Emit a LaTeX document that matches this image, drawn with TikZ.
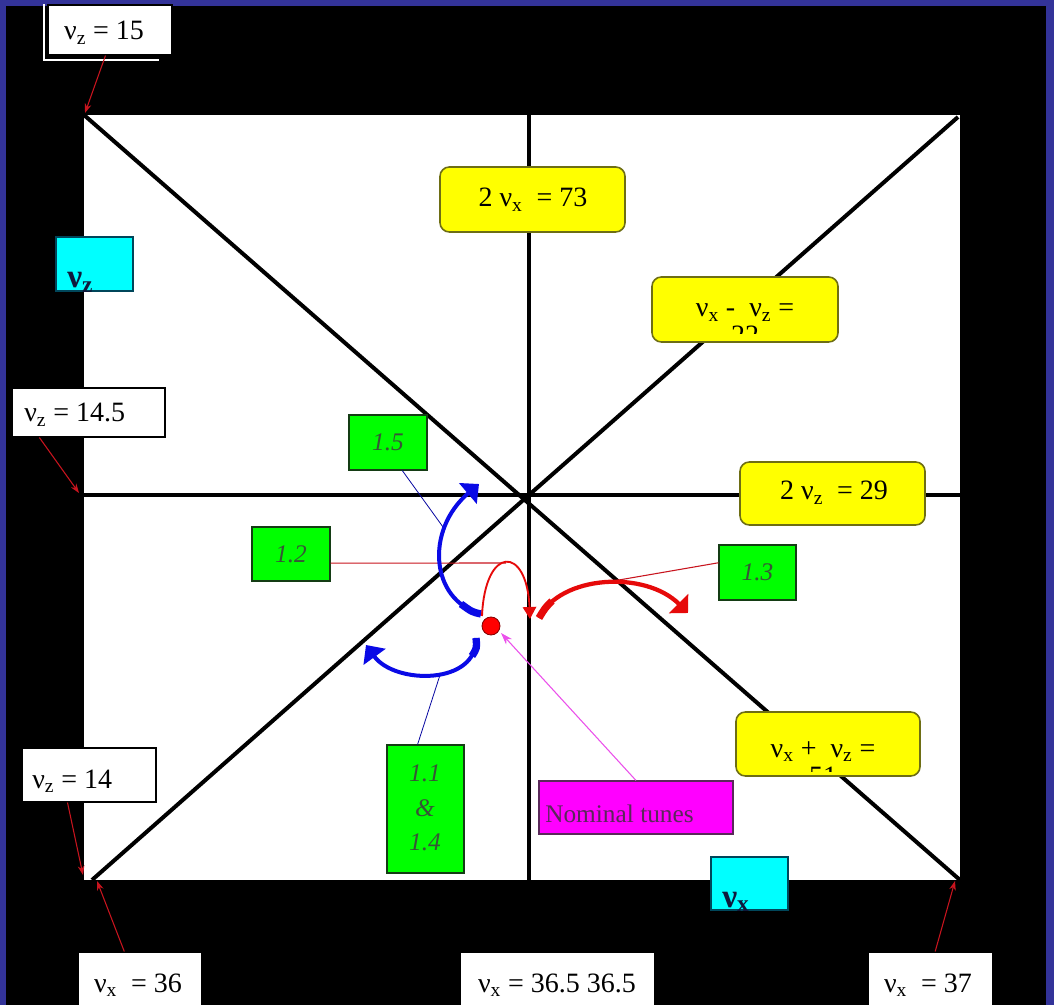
\documentclass[tikz,border=0pt]{standalone}
\usepackage{fontspec}
\setmainfont{Liberation Serif}
\usetikzlibrary{fit,arrows.meta,calc}
\definecolor{frameblue}{RGB}{51,51,153}
\definecolor{yfill}{RGB}{255,255,0}
\definecolor{gfill}{RGB}{0,255,0}
\definecolor{cfill}{RGB}{0,255,255}
\definecolor{mfill}{RGB}{255,0,255}
\definecolor{yborder}{RGB}{110,110,20}
\definecolor{gborder}{RGB}{20,60,20}
\definecolor{gtext}{RGB}{55,85,55}
\definecolor{cborder}{RGB}{0,70,90}
\definecolor{ctextc}{RGB}{15,25,60}
\definecolor{linered}{RGB}{200,20,30}
\definecolor{arcred}{RGB}{230,10,10}
\definecolor{arcblue}{RGB}{10,10,230}
\definecolor{mtext}{RGB}{90,40,90}
\definecolor{mline}{RGB}{235,80,235}
\newcommand\nux{ν\textsubscript{x}}
\newcommand\nuz{ν\textsubscript{z}}
\begin{document}
\begin{tikzpicture}[x=0.75pt,y=-0.75pt,
 box/.style={draw=black,line width=0.8pt,inner sep=0pt},
 wbox/.style={box,fill=white},
 wtext/.style={inner sep=0pt,font=\fontsize{21}{24}\selectfont},
 ybox/.style={draw=yborder,fill=yfill,line width=1.2pt,rounded corners=7pt,inner sep=0pt},
 ytext/.style={font=\fontsize{21}{24}\selectfont,inner sep=0pt},
 gbox/.style={draw=gborder,fill=gfill,line width=0.8pt,inner sep=0pt},
 gtextst/.style={font=\itshape\fontsize{19}{25}\selectfont,text=gtext,align=center,inner sep=0pt},
 cbox/.style={draw=cborder,fill=cfill,line width=0.8pt,inner sep=0pt},
 ctext/.style={font=\bfseries\fontsize{25}{25}\selectfont,text=ctextc,inner sep=0pt,anchor=base west},
 axis/.style={line width=3pt,black},
 redthin/.style={draw=linered,line width=0.8pt},
 redarr/.style={redthin,-{Stealth[length=7pt,width=5pt]}},
 bluethin/.style={draw=arcblue!70!black,line width=0.6pt},
 bluearc/.style={draw=arcblue,line width=3pt,-{Triangle[length=11pt,width=20pt]}},
 redarc/.style={draw=arcred,line width=3.2pt,-{Triangle[length=10pt,width=20pt]}},
 bluebase/.style={draw=arcblue,line width=5.5pt},
 redbase/.style={draw=arcred,line width=5.5pt},
]
\useasboundingbox (0,0) rectangle (1054,1005);
\fill[frameblue] (0,0) rectangle (1054,1005);
\fill[black] (6,6) rectangle (1046,1005);
% plot area
\node[fill=white,inner sep=0pt,fit={(84,115) (960,880)}] (plot) {};
\coordinate (tl) at (84,115);
\coordinate (br) at (960,880);
\coordinate (bl) at (92,880);
\coordinate (tr) at (958,117);
\coordinate (vt) at (529,115);
\coordinate (vb) at (529,880);
\coordinate (hl) at (84,495);
\coordinate (hr) at (960,495);
\draw[axis] (tl) -- (br);
\draw[axis] (bl) -- (tr);
\draw[axis] (vt) -- (vb);
\draw[axis] (hl) -- (hr);

% white labels
\node[wbox,fit={(48,5) (172,55)}] (v15) {};
\node[wtext,anchor=base] (v15t) at (104,40) {\nuz\ = 15};
\draw[white,line width=1.5pt] ($(v15.north west)+(-3,0)$) |- ($(v15.south west)+(112,4)$);
\node[wbox,fit={(12,388) (165,437)}] (v145) {};
\node[wtext,anchor=base west] (v145t) at (24,422) {\nuz\ = 14.5};
\node[wbox,fit={(22,748) (156,802)}] (v14) {};
\node[wtext,anchor=base west] (v14t) at (32,788) {\nuz\ = 14};
\node[wbox,fit={(78,952) (202,1010)}] (b36) {};
\node[wtext,anchor=base] (b36t) at (138,992) {\nux\ \ = 36};
\node[wbox,fit={(460,952) (655,1010)}] (b365) {};
\node[wtext,anchor=base] (b365t) at (557,992) {\nux\ = 36.5 36.5};
\node[wbox,fit={(868,952) (993,1010)}] (b37) {};
\node[wtext,anchor=base] (b37t) at (928,992) {\nux\ \ = 37};

\coordinate (c15) at (85,113);
\coordinate (c145) at (79,493);
\coordinate (c14) at (83,875);
\coordinate (c36) at (97,881);
\coordinate (c37) at (955,881);
\draw[redarr] (v15.260) -- (c15);
\draw[redarr] (v145.207) -- (c145);
\draw[redarr] (v14.232) -- (c14);
\draw[redarr] (b36.118) -- (c36);
\draw[redarr] (b37.81) -- (c37);

% cyan axis labels
\node[cbox,fit={(56,237) (133,291)}] (cz) {};
\node[ctext] (czt) at (67,288) {ν\textsubscript{z}};
\node[cbox,fit={(711,857) (788,910)}] (cx) {};
\node[ctext] (cxt) at (722,907) {ν\textsubscript{x}};

% yellow resonance labels
\node[ybox,fit={(440,167) (625,232)}] (y73) {};
\node[ytext,anchor=base] (y73t) at (533,207) {2 \nux\ \ = 73};
\node[ybox,fit={(740,462) (925,525)}] (y29) {};
\node[ytext,anchor=base] (y29t) at (834,500) {2 \nuz\ \ = 29};
\node[ybox,fit={(652,277) (838,342)}] (y22) {};
\node[ytext,anchor=base] (y22a) at (745,317) {\nux\ -\ \ \nuz\ =};
\begin{scope}
\clip (652,277) rectangle (838,334);
\node[ytext,anchor=base] (y22b) at (745,345) {22};
\end{scope}
\node[ybox,fit={(736,712) (920,776)}] (y51) {};
\node[ytext,anchor=base] (y51a) at (823,757) {\nux\ +\ \ \nuz\ =};
\begin{scope}
\clip (736,712) rectangle (920,771);
\node[ytext,anchor=base] (y51b) at (823,785) {51};
\end{scope}

% green labels
\node[gbox,fit={(349,415) (427,470)}] (g15) {};
\node[gtextst] (g15t) at (g15.center) {1.5};
\node[gbox,fit={(252,527) (330,581)}] (g12) {};
\node[gtextst] (g12t) at (g12.center) {1.2};
\node[gbox,fit={(719,545) (796,600)}] (g13) {};
\node[gtextst] (g13t) at (g13.center) {1.3};
\node[gbox,fit={(387,745) (464,873)}] (g1114) {};
\node[gtextst] (g1114t) at (425,808) {1.1\\[1pt]\&\\[1pt]1.4};

% magenta
\node[draw=mtext,fill=mfill,line width=0.8pt,inner sep=0pt,fit={(539,781) (733,834)}] (nom) {};
\node[anchor=base west,inner sep=0pt,text=mtext,font=\fontsize{19}{22}\selectfont] (nomt) at (545,822) {Nominal tunes};

% nominal point
\node[circle,fill=red,draw=red!50!black,line width=0.6pt,minimum size=13.5pt,inner sep=0pt] (dot) at (491,626) {};

% connector coordinates
\coordinate (p15) at (443,527);
\coordinate (p1114) at (440,675);
\coordinate (p12) at (506,563);
\coordinate (p13) at (590,585);
\coordinate (pnom) at (501,633);
\draw[bluethin] (g15.297) -- (p15);
\draw[bluethin] (g1114.97) -- (p1114);
\draw[redthin] (g12.-13) -- (p12);
\draw[redthin] (g13.166) -- (p13);
\draw[draw=mline,line width=0.8pt,-{Stealth[length=9pt,width=6pt]}] (nom.north) -- (pnom);

% arcs
\draw[bluearc] (481,614) .. controls (430,600) and (425,530) .. (479,484);
\draw[bluebase] (481,614) .. controls (472,612) .. (461,604);
\draw[bluearc] (476,638) .. controls (478,685) and (395,685) .. (366,645);
\draw[bluebase] (476,638) .. controls (477,648) .. (472,656);
\draw[draw=arcred,line width=1.4pt,-{Triangle[length=9pt,width=10pt]}] (482,616) .. controls (485,545) and (527,545) .. (530,619);
\draw[redarc] (539,618) .. controls (560,575) and (645,570) .. (688,613);
\draw[redbase] (539,618) .. controls (545,608) .. (552,601);
\end{tikzpicture}
\end{document}
